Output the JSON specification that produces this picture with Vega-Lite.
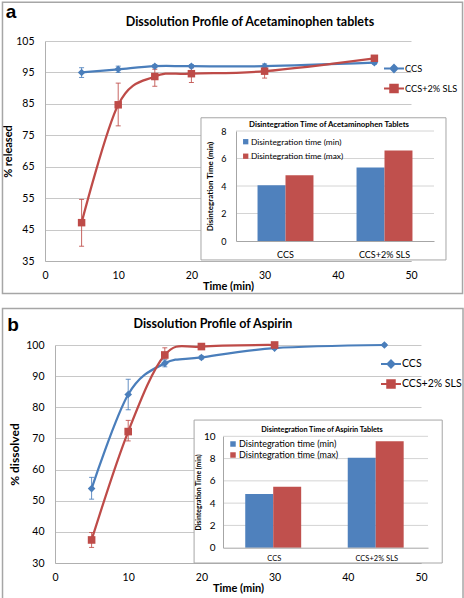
{
  "$schema": "https://vega.github.io/schema/vega-lite/v6.json",
  "background": "white",
  "padding": 1,
  "config": {
    "font": "Lato",
    "view": {"stroke": null},
    "axis": {"labelColor": "black", "titleColor": "black", "labelFont": "Lato", "titleFont": "Lato", "labelOverlap": false},
    "legend": {"labelFont": "Lato", "labelColor": "black"}
  },
  "datasets": {
    "acet": [
      {"time": 5, "series": "CCS", "value": 95.0, "lo": 93.4, "hi": 96.5},
      {"time": 10, "series": "CCS", "value": 96.0, "lo": 95.0, "hi": 97.0},
      {"time": 15, "series": "CCS", "value": 97.0, "lo": 96.5, "hi": 97.5},
      {"time": 20, "series": "CCS", "value": 97.0, "lo": 96.5, "hi": 97.5},
      {"time": 30, "series": "CCS", "value": 97.0, "lo": 96.3, "hi": 97.7},
      {"time": 45, "series": "CCS", "value": 98.1, "lo": 97.6, "hi": 98.6},
      {"time": 5, "series": "CCS+2% SLS", "value": 47.2, "lo": 39.7, "hi": 54.6},
      {"time": 10, "series": "CCS+2% SLS", "value": 84.7, "lo": 78.0, "hi": 91.6},
      {"time": 15, "series": "CCS+2% SLS", "value": 93.7, "lo": 90.6, "hi": 96.0},
      {"time": 20, "series": "CCS+2% SLS", "value": 94.6, "lo": 91.8, "hi": 96.5},
      {"time": 30, "series": "CCS+2% SLS", "value": 95.4, "lo": 93.2, "hi": 96.8},
      {"time": 45, "series": "CCS+2% SLS", "value": 99.5, "lo": 98.8, "hi": 100.0}
    ],
    "acetBars": [
      {"formulation": "CCS", "measure": "Disintegration time (min)", "value": 4.06},
      {"formulation": "CCS", "measure": "Disintegration time (max)", "value": 4.79},
      {"formulation": "CCS+2% SLS", "measure": "Disintegration time (min)", "value": 5.35},
      {"formulation": "CCS+2% SLS", "measure": "Disintegration time (max)", "value": 6.59}
    ],
    "asp": [
      {"time": 5, "series": "CCS", "value": 53.9, "lo": 50.5, "hi": 57.5},
      {"time": 10, "series": "CCS", "value": 84.1, "lo": 79.2, "hi": 89.0},
      {"time": 15, "series": "CCS", "value": 94.1, "lo": 93.0, "hi": 95.2},
      {"time": 20, "series": "CCS", "value": 96.0, "lo": 95.5, "hi": 96.5},
      {"time": 30, "series": "CCS", "value": 99.0, "lo": 98.6, "hi": 99.4},
      {"time": 45, "series": "CCS", "value": 100.0, "lo": 99.7, "hi": 100.3},
      {"time": 5, "series": "CCS+2% SLS", "value": 37.4, "lo": 35.0, "hi": 39.8},
      {"time": 10, "series": "CCS+2% SLS", "value": 72.2, "lo": 69.2, "hi": 75.8},
      {"time": 15, "series": "CCS+2% SLS", "value": 96.8, "lo": 95.5, "hi": 99.1},
      {"time": 20, "series": "CCS+2% SLS", "value": 99.5, "lo": 98.8, "hi": 100.2},
      {"time": 30, "series": "CCS+2% SLS", "value": 100.0, "lo": 99.6, "hi": 100.4}
    ],
    "aspBars": [
      {"formulation": "CCS", "measure": "Disintegration time (min)", "value": 4.82},
      {"formulation": "CCS", "measure": "Disintegration time (max)", "value": 5.48},
      {"formulation": "CCS+2% SLS", "measure": "Disintegration time (min)", "value": 8.08},
      {"formulation": "CCS+2% SLS", "measure": "Disintegration time (max)", "value": 9.55}
    ]
  },
  "concat": [
    {
      "width": 366,
      "height": 220,
      "layer": [
        {
          "data": {"values": [{}]},
          "layer": [
            {
              "mark": {"type": "rect", "fill": "transparent", "stroke": "#a6a6a6", "strokeWidth": 1.5},
              "encoding": {
                "x": {"datum": -5.81, "type": "quantitative", "scale": {"domain": [0, 50], "nice": false, "zero": false}, "axis": null},
                "x2": {"datum": 57.04},
                "y": {"datum": 117.36, "type": "quantitative", "scale": {"domain": [35, 105], "nice": false, "zero": false}, "axis": null},
                "y2": {"datum": 24.66}
              }
            },
            {
              "mark": {"type": "text", "text": "a", "font": "Liberation Sans", "fontWeight": "bold", "fontSize": 19, "align": "center", "baseline": "middle", "color": "black"},
              "encoding": {"x": {"datum": -4.64, "type": "quantitative", "axis": null}, "y": {"datum": 114.3, "type": "quantitative", "axis": null}}
            },
            {
              "mark": {"type": "text", "text": "Dissolution Profile of Acetaminophen tablets", "font": "Lato", "fontWeight": "bold", "fontSize": 12.5, "align": "center", "baseline": "middle", "color": "black"},
              "encoding": {"x": {"datum": 28.0, "type": "quantitative", "axis": null}, "y": {"datum": 111.15, "type": "quantitative", "axis": null}}
            },
            {
              "mark": {"type": "rect", "fill": "white", "stroke": "#a6a6a6", "strokeWidth": 1},
              "encoding": {"x": {"datum": 21.31, "type": "quantitative", "axis": null}, "x2": {"datum": 54.78}, "y": {"datum": 80.57, "type": "quantitative", "axis": null}, "y2": {"datum": 35.33}}
            },
            {
              "mark": {"type": "text", "text": "Disintegration Time of Acetaminophen Tablets", "font": "Lato", "fontWeight": "bold", "fontSize": 7.8, "align": "center", "baseline": "middle", "color": "black"},
              "encoding": {"x": {"datum": 38.8, "type": "quantitative", "axis": null}, "y": {"datum": 78.33, "type": "quantitative", "axis": null}}
            }
          ]
        },
        {
          "data": {"name": "acet"},
          "layer": [
            {
              "mark": {"type": "line", "interpolate": "cardinal", "strokeWidth": 2.25},
              "encoding": {
                "x": {"field": "time", "type": "quantitative", "scale": {"domain": [0, 50], "nice": false, "zero": false},
                  "axis": {"title": "Time (min)", "values": [0, 10, 20, 30, 40, 50], "tickCount": 20, "format": "d", "grid": false, "ticks": false, "domainColor": "#b0b0b0", "labelFontSize": 10.5, "labelPadding": 9, "labelFlush": false, "labelOverlap": false, "titleFontSize": 11, "titleFontWeight": "bold", "titlePadding": 0}},
                "y": {"field": "value", "type": "quantitative", "scale": {"domain": [35, 105], "nice": false, "zero": false},
                  "axis": {"title": "% released", "values": [35, 45, 55, 65, 75, 85, 95, 105], "tickCount": 20, "format": "d", "grid": true, "gridColor": "#c8c8c8", "ticks": false, "domainColor": "#b0b0b0", "labelFontSize": 10.5, "labelPadding": 11, "labelOverlap": false, "labelBound": false, "titleFontSize": 11, "titleFontWeight": "bold", "titlePadding": 2}},
                "color": {"field": "series", "type": "nominal", "scale": {"domain": ["CCS", "CCS+2% SLS"], "range": ["#4a7ebb", "#be4b48"]}, "legend": null}
              }
            },
            {
              "mark": {"type": "rule", "strokeWidth": 1, "opacity": 0.85},
              "encoding": {
                "x": {"field": "time", "type": "quantitative"},
                "y": {"field": "lo", "type": "quantitative"},
                "y2": {"field": "hi"},
                "color": {"field": "series", "type": "nominal", "legend": null}
              }
            },
            {
              "mark": {"type": "tick", "orient": "horizontal", "size": 5, "thickness": 1, "opacity": 0.85},
              "encoding": {
                "x": {"field": "time", "type": "quantitative"},
                "y": {"field": "lo", "type": "quantitative"},
                "color": {"field": "series", "type": "nominal", "legend": null}
              }
            },
            {
              "mark": {"type": "tick", "orient": "horizontal", "size": 5, "thickness": 1, "opacity": 0.85},
              "encoding": {
                "x": {"field": "time", "type": "quantitative"},
                "y": {"field": "hi", "type": "quantitative"},
                "color": {"field": "series", "type": "nominal", "legend": null}
              }
            },
            {
              "mark": {"type": "point", "filled": true, "opacity": 1, "size": 56},
              "encoding": {
                "x": {"field": "time", "type": "quantitative"},
                "y": {"field": "value", "type": "quantitative"},
                "shape": {"field": "series", "type": "nominal", "scale": {"domain": ["CCS", "CCS+2% SLS"], "range": ["diamond", "square"]}, "legend": null},
                "color": {"field": "series", "type": "nominal", "legend": null}
              }
            }
          ]
        },
        {
          "data": {"values": [{}]},
          "encoding": {
            "x": {"datum": 0, "type": "quantitative", "scale": {"domain": [0, 1], "range": [191, 389], "nice": false, "zero": false}, "axis": null},
            "x2": {"datum": 1}
          },
          "layer": [
            {"mark": {"type": "rule", "color": "#d4d4d4", "strokeWidth": 1}, "encoding": {"y": {"datum": 2, "type": "quantitative", "scale": {"domain": [0, 8], "range": [200, 90], "nice": false, "zero": false}, "axis": null}}},
            {"mark": {"type": "rule", "color": "#d4d4d4", "strokeWidth": 1}, "encoding": {"y": {"datum": 4, "type": "quantitative", "axis": null}}},
            {"mark": {"type": "rule", "color": "#d4d4d4", "strokeWidth": 1}, "encoding": {"y": {"datum": 6, "type": "quantitative", "axis": null}}},
            {"mark": {"type": "rule", "color": "#d4d4d4", "strokeWidth": 1}, "encoding": {"y": {"datum": 8, "type": "quantitative", "axis": null}}}
          ]
        },
        {
          "data": {"name": "acetBars"},
          "mark": {"type": "bar"},
          "encoding": {
            "x": {"field": "formulation", "type": "nominal", "sort": ["CCS", "CCS+2% SLS"], "scale": {"range": [191, 389], "paddingInner": 0.435, "paddingOuter": 0.2175},
              "axis": {"orient": "bottom", "offset": -20, "title": null, "labelAngle": 0, "ticks": false, "grid": false, "domainColor": "#a6a6a6", "labelFontSize": 9, "labelPadding": 9.5, "zindex": 1}},
            "xOffset": {"field": "measure", "type": "nominal", "sort": ["Disintegration time (min)", "Disintegration time (max)"]},
            "y": {"field": "value", "type": "quantitative", "scale": {"domain": [0, 8], "range": [200, 90], "nice": false, "zero": false},
              "axis": {"orient": "left", "offset": -191, "values": [0, 2, 4, 6, 8], "tickCount": 20, "format": "d", "grid": false, "ticks": false, "domainColor": "#a6a6a6", "title": "Disintegration  Time (min)", "titleFontSize": 8, "titleFontWeight": "bold", "titlePadding": 6, "labelFontSize": 9, "labelPadding": 10, "labelOverlap": false, "zindex": 1}},
            "color": {"field": "measure", "type": "nominal", "sort": ["Disintegration time (min)", "Disintegration time (max)"],
              "scale": {"domain": ["Disintegration time (min)", "Disintegration time (max)"], "range": ["#4f81bd", "#c0504d"]},
              "legend": {"orient": "none", "legendX": 196.5, "legendY": 96.5, "title": null, "padding": 0, "symbolType": "square", "symbolSize": 28, "labelFontSize": 8.4, "rowPadding": 5.5, "labelOffset": 1}}
          }
        },
        {
          "data": {"name": "acet"},
          "mark": {"type": "point", "filled": true, "opacity": 0},
          "encoding": {
            "fill": {"field": "series", "type": "nominal", "scale": {"domain": ["CCS", "CCS+2% SLS"], "range": ["#4a7ebb", "#be4b48"]},
              "legend": {"orient": "none", "legendX": 343, "legendY": 21.5, "title": null, "padding": 0, "symbolSize": 100, "symbolStrokeWidth": 2, "symbolOpacity": 1, "labelFontSize": 9.2, "rowPadding": 4, "labelOffset": 5}},
            "stroke": {"field": "series", "type": "nominal", "scale": {"domain": ["CCS", "CCS+2% SLS"], "range": ["#4a7ebb", "#be4b48"]},
              "legend": {"orient": "none", "legendX": 343, "legendY": 21.5, "title": null, "padding": 0, "symbolSize": 100, "symbolStrokeWidth": 2, "symbolOpacity": 1, "labelFontSize": 9.2, "rowPadding": 4, "labelOffset": 5}},
            "shape": {"field": "series", "type": "nominal", "scale": {"domain": ["CCS", "CCS+2% SLS"], "range": ["M-2,0H2M0,-0.7L0.7,0L0,0.7L-0.7,0Z", "M-2,0H2M-0.75,-0.75H0.75V0.75H-0.75Z"]},
              "legend": {"orient": "none", "legendX": 343, "legendY": 21.5, "title": null, "padding": 0, "symbolSize": 100, "symbolStrokeWidth": 2, "symbolOpacity": 1, "labelFontSize": 9.2, "rowPadding": 4, "labelOffset": 5}}
          }
        }
      ],
      "resolve": {"scale": {"x": "independent", "y": "independent", "color": "independent", "shape": "independent", "fill": "independent", "stroke": "independent"}}
    },
    {
      "width": 376,
      "height": 218,
      "layer": [
        {
          "data": {"values": [{}]},
          "layer": [
            {
              "mark": {"type": "rect", "fill": "transparent", "stroke": "#a6a6a6", "strokeWidth": 1.5},
              "encoding": {
                "x": {"datum": -7.17, "type": "quantitative", "scale": {"domain": [0, 50], "range": [10, 376], "nice": false, "zero": false}, "axis": null},
                "x2": {"datum": 55.74},
                "y": {"datum": 111.72, "type": "quantitative", "scale": {"domain": [30, 100], "nice": false, "zero": false}, "axis": null},
                "y2": {"datum": 18.27}
              }
            },
            {
              "mark": {"type": "text", "text": "b", "font": "Liberation Sans", "fontWeight": "bold", "fontSize": 19, "align": "center", "baseline": "middle", "color": "black"},
              "encoding": {"x": {"datum": -5.74, "type": "quantitative", "axis": null}, "y": {"datum": 106.42, "type": "quantitative", "axis": null}}
            },
            {
              "mark": {"type": "text", "text": "Dissolution Profile of Aspirin", "font": "Lato", "fontWeight": "bold", "fontSize": 12.5, "align": "center", "baseline": "middle", "color": "black"},
              "encoding": {"x": {"datum": 21.58, "type": "quantitative", "axis": null}, "y": {"datum": 106.74, "type": "quantitative", "axis": null}}
            },
            {
              "mark": {"type": "rect", "fill": "white", "stroke": "#a6a6a6", "strokeWidth": 1},
              "encoding": {"x": {"datum": 19.0, "type": "quantitative", "axis": null}, "x2": {"datum": 52.9}, "y": {"datum": 75.9, "type": "quantitative", "axis": null}, "y2": {"datum": 30.0}}
            },
            {
              "mark": {"type": "text", "text": "Disintegration Time of Aspirin Tablets", "font": "Lato", "fontWeight": "bold", "fontSize": 7.3, "align": "center", "baseline": "middle", "color": "black"},
              "encoding": {"x": {"datum": 36.48, "type": "quantitative", "axis": null}, "y": {"datum": 72.7, "type": "quantitative", "axis": null}}
            }
          ]
        },
        {
          "data": {"name": "asp"},
          "layer": [
            {
              "mark": {"type": "line", "interpolate": "cardinal", "strokeWidth": 2.25},
              "encoding": {
                "x": {"field": "time", "type": "quantitative", "scale": {"domain": [0, 50], "range": [10, 376], "nice": false, "zero": false},
                  "axis": {"title": "Time (min)", "values": [0, 10, 20, 30, 40, 50], "tickCount": 20, "format": "d", "grid": false, "ticks": false, "domainColor": "#b0b0b0", "labelFontSize": 10.5, "labelPadding": 9, "labelFlush": false, "labelOverlap": false, "titleFontSize": 11, "titleFontWeight": "bold", "titlePadding": 0}},
                "y": {"field": "value", "type": "quantitative", "scale": {"domain": [30, 100], "nice": false, "zero": false},
                  "axis": {"title": "% dissolved", "offset": -10, "values": [30, 40, 50, 60, 70, 80, 90, 100], "tickCount": 20, "format": "d", "grid": true, "gridColor": "#c8c8c8", "ticks": false, "domainColor": "#b0b0b0", "labelFontSize": 10.5, "labelPadding": 11, "labelOverlap": false, "labelBound": false, "titleFontSize": 12, "titleFontWeight": "bold", "titlePadding": 4}},
                "color": {"field": "series", "type": "nominal", "scale": {"domain": ["CCS", "CCS+2% SLS"], "range": ["#4a7ebb", "#be4b48"]}, "legend": null}
              }
            },
            {
              "mark": {"type": "rule", "strokeWidth": 1, "opacity": 0.85},
              "encoding": {
                "x": {"field": "time", "type": "quantitative"},
                "y": {"field": "lo", "type": "quantitative"},
                "y2": {"field": "hi"},
                "color": {"field": "series", "type": "nominal", "legend": null}
              }
            },
            {
              "mark": {"type": "tick", "orient": "horizontal", "size": 5, "thickness": 1, "opacity": 0.85},
              "encoding": {
                "x": {"field": "time", "type": "quantitative"},
                "y": {"field": "lo", "type": "quantitative"},
                "color": {"field": "series", "type": "nominal", "legend": null}
              }
            },
            {
              "mark": {"type": "tick", "orient": "horizontal", "size": 5, "thickness": 1, "opacity": 0.85},
              "encoding": {
                "x": {"field": "time", "type": "quantitative"},
                "y": {"field": "hi", "type": "quantitative"},
                "color": {"field": "series", "type": "nominal", "legend": null}
              }
            },
            {
              "mark": {"type": "point", "filled": true, "opacity": 1, "size": 58},
              "encoding": {
                "x": {"field": "time", "type": "quantitative"},
                "y": {"field": "value", "type": "quantitative"},
                "shape": {"field": "series", "type": "nominal", "scale": {"domain": ["CCS", "CCS+2% SLS"], "range": ["diamond", "square"]}, "legend": null},
                "color": {"field": "series", "type": "nominal", "legend": null}
              }
            }
          ]
        },
        {
          "data": {"values": [{}]},
          "encoding": {
            "x": {"datum": 0, "type": "quantitative", "scale": {"domain": [0, 1], "range": [178, 383], "nice": false, "zero": false}, "axis": null},
            "x2": {"datum": 1}
          },
          "layer": [
            {"mark": {"type": "rule", "color": "#d4d4d4", "strokeWidth": 1}, "encoding": {"y": {"datum": 2, "type": "quantitative", "scale": {"domain": [0, 10], "range": [202.7, 91.3], "nice": false, "zero": false}, "axis": null}}},
            {"mark": {"type": "rule", "color": "#d4d4d4", "strokeWidth": 1}, "encoding": {"y": {"datum": 4, "type": "quantitative", "axis": null}}},
            {"mark": {"type": "rule", "color": "#d4d4d4", "strokeWidth": 1}, "encoding": {"y": {"datum": 6, "type": "quantitative", "axis": null}}},
            {"mark": {"type": "rule", "color": "#d4d4d4", "strokeWidth": 1}, "encoding": {"y": {"datum": 8, "type": "quantitative", "axis": null}}},
            {"mark": {"type": "rule", "color": "#d4d4d4", "strokeWidth": 1}, "encoding": {"y": {"datum": 10, "type": "quantitative", "axis": null}}}
          ]
        },
        {
          "data": {"name": "aspBars"},
          "mark": {"type": "bar"},
          "encoding": {
            "x": {"field": "formulation", "type": "nominal", "sort": ["CCS", "CCS+2% SLS"], "scale": {"range": [178, 383], "paddingInner": 0.434, "paddingOuter": 0.217},
              "axis": {"orient": "bottom", "offset": -15.3, "title": null, "labelAngle": 0, "ticks": false, "grid": false, "domainColor": "#a6a6a6", "labelFontSize": 7.5, "labelPadding": 7, "zindex": 1}},
            "xOffset": {"field": "measure", "type": "nominal", "sort": ["Disintegration time (min)", "Disintegration time (max)"]},
            "y": {"field": "value", "type": "quantitative", "scale": {"domain": [0, 10], "range": [202.7, 91.3], "nice": false, "zero": false},
              "axis": {"orient": "left", "offset": -178, "values": [0, 2, 4, 6, 8, 10], "tickCount": 20, "format": "d", "grid": false, "ticks": false, "domainColor": "#a6a6a6", "title": "Disintegration Time (min)", "titleFontSize": 6.8, "titleFontWeight": "bold", "titlePadding": 2, "labelFontSize": 10, "labelPadding": 8, "labelOverlap": false, "zindex": 1}},
            "color": {"field": "measure", "type": "nominal", "sort": ["Disintegration time (min)", "Disintegration time (max)"],
              "scale": {"domain": ["Disintegration time (min)", "Disintegration time (max)"], "range": ["#4f81bd", "#c0504d"]},
              "legend": {"orient": "none", "legendX": 183.5, "legendY": 94.5, "title": null, "padding": 0, "symbolType": "square", "symbolSize": 30, "labelFontSize": 9, "rowPadding": 1, "labelOffset": 1.5}}
          }
        },
        {
          "data": {"name": "asp"},
          "mark": {"type": "point", "filled": true, "opacity": 0},
          "encoding": {
            "fill": {"field": "series", "type": "nominal", "scale": {"domain": ["CCS", "CCS+2% SLS"], "range": ["#4a7ebb", "#be4b48"]},
              "legend": {"orient": "none", "legendX": 340, "legendY": 13, "title": null, "padding": 0, "symbolSize": 100, "symbolStrokeWidth": 2, "symbolOpacity": 1, "labelFontSize": 10.5, "rowPadding": 4, "labelOffset": 5}},
            "stroke": {"field": "series", "type": "nominal", "scale": {"domain": ["CCS", "CCS+2% SLS"], "range": ["#4a7ebb", "#be4b48"]},
              "legend": {"orient": "none", "legendX": 340, "legendY": 13, "title": null, "padding": 0, "symbolSize": 100, "symbolStrokeWidth": 2, "symbolOpacity": 1, "labelFontSize": 10.5, "rowPadding": 4, "labelOffset": 5}},
            "shape": {"field": "series", "type": "nominal", "scale": {"domain": ["CCS", "CCS+2% SLS"], "range": ["M-2,0H2M0,-0.7L0.7,0L0,0.7L-0.7,0Z", "M-2,0H2M-0.75,-0.75H0.75V0.75H-0.75Z"]},
              "legend": {"orient": "none", "legendX": 340, "legendY": 13, "title": null, "padding": 0, "symbolSize": 100, "symbolStrokeWidth": 2, "symbolOpacity": 1, "labelFontSize": 10.5, "rowPadding": 4, "labelOffset": 5}}
          }
        }
      ],
      "resolve": {"scale": {"x": "independent", "y": "independent", "color": "independent", "shape": "independent", "fill": "independent", "stroke": "independent"}}
    }
  ],
  "columns": 1,
  "align": "none",
  "spacing": 12
}
